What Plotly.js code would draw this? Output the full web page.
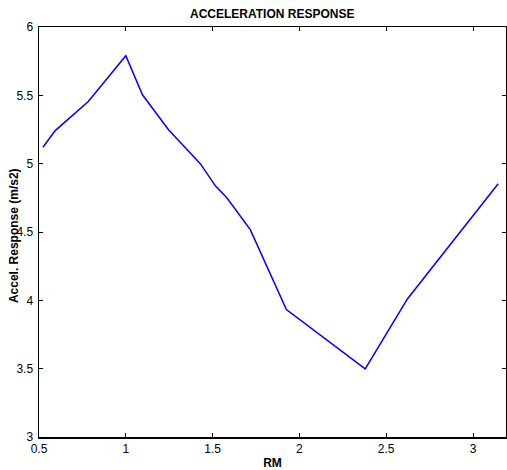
<!DOCTYPE html>
<html>
<head>
<meta charset="utf-8">
<script src="https://cdn.plot.ly/plotly-3.0.1.min.js"></script>
<style>
html,body{margin:0;padding:0;background:#fff;}
#chart{width:507px;height:470px;}
</style>
</head>
<body>
<div id="chart"></div>
<script>
// Data
const rmValues = [0.523, 0.592, 0.784, 1.0, 1.096, 1.246, 1.429, 1.516, 1.583, 1.717, 1.925, 2.379, 2.622, 3.145];
const accelResponse = [5.12, 5.24, 5.455, 5.79, 5.504, 5.248, 5.0, 4.838, 4.749, 4.517, 3.932, 3.499, 4.01, 4.853];
const xTickVals = [0.5, 1, 1.5, 2, 2.5, 3];
const yTickVals = [3, 3.5, 4, 4.5, 5, 5.5, 6];
const chartTitle = "ACCELERATION RESPONSE";
const xTitle = "RM";
const yTitle = "Accel. Response (m/s2)";

const narrow = '"Liberation Sans Narrow", "Arial Narrow", "Liberation Sans", Arial, sans-serif';
const sans = '"Liberation Sans", Arial, sans-serif';

const trace = {
  x: rmValues,
  y: accelResponse,
  type: 'scatter',
  mode: 'lines',
  line: {color: '#0000ff', width: 1.5},
  hoverinfo: 'skip'
};

const axisCommon = {
  showline: true,
  linecolor: '#000',
  linewidth: 1.5,
  mirror: 'ticks',
  ticks: 'inside',
  ticklen: 4,
  tickwidth: 1,
  tickcolor: '#000',
  showgrid: false,
  zeroline: false,
  tickfont: {family: narrow, size: 12, color: '#000'}
};

const layout = {
  width: 507,
  height: 470,
  margin: {l: 39, r: 1, t: 27, b: 33, pad: 0},
  paper_bgcolor: '#fff',
  plot_bgcolor: '#fff',
  showlegend: false,
  title: {
    text: '<b>' + chartTitle + '</b>',
    font: {family: narrow, size: 12, color: '#000'},
    x: 0.537, xanchor: 'center',
    y: 1 - 14/470, yanchor: 'middle'
  },
  xaxis: Object.assign({}, axisCommon, {
    range: [0.5, 3.19],
    tickvals: xTickVals,
    ticktext: xTickVals.map(String),
    title: {text: '<b>' + xTitle + '</b>', font: {family: narrow, size: 12, color: '#000'}, standoff: 6}
  }),
  yaxis: Object.assign({}, axisCommon, {
    range: [3, 6],
    tickvals: yTickVals,
    ticktext: yTickVals.map(String),
    ticklabelstandoff: 2
  }),
  annotations: [{
    text: '<b>' + yTitle + '</b>',
    xref: 'paper', yref: 'paper',
    x: 0, y: 0.49,
    xshift: -25,
    xanchor: 'center', yanchor: 'middle',
    textangle: -90,
    showarrow: false,
    font: {family: sans, size: 12, color: '#000'}
  }]
};

Plotly.newPlot('chart', [trace], layout, {displayModeBar: false, staticPlot: true});
</script>
</body>
</html>
